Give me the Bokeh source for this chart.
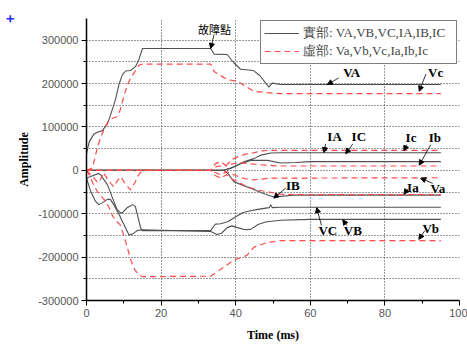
from bokeh.plotting import figure
from bokeh.models import Range1d, FixedTicker, Legend, LegendItem, Label, Arrow, NormalHead, Title
from bokeh.embed import file_html
from bokeh.resources import INLINE

# ---------------- data ----------------
# real parts (solid)
t_VA = [0, 0.7, 2, 2.9, 4.2, 5.6, 6.4, 7.8, 8.7, 9.6, 10.5, 11.8, 13.1, 14, 15, 33.3, 34.2, 37.7, 39.5, 41.3, 44.8, 46.5, 48.9, 49.8, 52, 95]
VA = [38000, 65000, 84000, 88000, 91000, 107000, 126000, 164000, 198000, 220000, 229000, 230000, 239000, 254000, 281000, 281000, 268000, 267000, 248000, 233000, 230000, 218000, 192000, 201000, 198000, 198000]

t_VB = [0, 1.1, 2.4, 3.3, 4.2, 5.6, 6.4, 7.3, 8.7, 10, 11.4, 12.3, 13.6, 14.9, 33.3, 35, 36.2, 37.7, 39, 40.5, 42.5, 44, 46, 48, 52, 60, 95]
VB = [-18000, -48000, -71000, -79000, -75000, -67000, -67000, -79000, -101000, -124000, -149000, -147000, -139000, -137000, -141000, -148000, -145000, -132000, -128000, -132000, -137000, -136000, -125000, -119000, -115000, -113000, -113000]

t_VC = [0, 1.1, 3.3, 3.8, 5.6, 7.3, 8.2, 9.1, 9.6, 10.9, 12.3, 13.1, 13.6, 14.5, 14.9, 33.3, 34, 34.6, 36, 38, 40, 42, 44, 46, 48, 49, 49.4, 49.8, 52, 95]
VC = [-18000, -14000, -7000, -11000, -33000, -71000, -90000, -98000, -98000, -86000, -79000, -83000, -101000, -132000, -139000, -139000, -130000, -124000, -123000, -118000, -107000, -97000, -93000, -90000, -87000, -86000, -79000, -86000, -85000, -85000]

t_IA = [0, 36.8, 38.6, 40.5, 42.2, 44.9, 46.7, 49.4, 52, 95]
IA = [0, 0, 4500, 12000, 20000, 27000, 35000, 40000, 40500, 40500]

t_IB = [0, 36.8, 38, 39.5, 42, 44, 46, 48, 50, 52, 56, 95]
IB = [0, 0, -8000, -26000, -35000, -41000, -48000, -55000, -61000, -60000, -57000, -57000]

t_IC = [0, 36.8, 38.5, 41.3, 44, 48.5, 52, 56, 60, 95]
IC = [0, 0, 5000, 15000, 23000, 23000, 17000, 18000, 20000, 20000]

# imaginary parts (dashed)
t_Vc = [0, 1.5, 2, 3, 4, 5, 6, 7, 8, 9, 10, 11, 12, 13, 14, 15, 33.3, 34.2, 37.7, 40.1, 41.3, 44.9, 48.5, 52, 95]
Vc = [0, 5000, 20000, 55000, 80000, 100000, 115000, 120000, 123000, 138000, 170000, 198000, 215000, 228000, 242000, 245000, 245000, 228000, 209000, 206000, 201000, 182000, 179000, 177000, 177000]

t_Vb = [0, 1, 2, 3, 4, 5, 6, 7, 8, 9, 10, 11, 12, 13, 14, 15, 33.3, 36.8, 39.5, 43, 44.9, 48.5, 52, 95]
Vb = [0, -15000, -35000, -50000, -60000, -70000, -85000, -105000, -118000, -125000, -150000, -180000, -210000, -230000, -240000, -245000, -244000, -223000, -207000, -196000, -177000, -166000, -162000, -162000]

t_Va = [0, 1, 2, 3, 3.6, 4.5, 5.5, 6.5, 7.3, 8.2, 9.2, 10.3, 11.8, 13, 14, 15, 33.3, 34.5, 36, 37.5, 40, 42, 44, 46, 49, 95]
Va = [0, -8000, -18000, -28000, -25000, -5000, -18000, -30000, -38000, -25000, -15000, -30000, -45000, -28000, -10000, 0, 0, -5000, -10000, -3000, -12000, -18000, -22000, -21000, -18000, -17000]

t_Ia = [0, 33.3, 34.5, 36, 37.5, 39, 41, 43, 45, 47, 49, 52, 56, 95]
Ia = [0, 0, -12000, -18000, -10000, -20000, -28000, -38000, -43000, -47000, -50000, -55000, -56000, -56000]

t_Ib = [0, 33.3, 34.5, 36, 37.5, 39, 41, 43, 45, 48, 52, 95]
Ib = [0, 0, 15000, 20000, 10000, 15000, 18000, 16000, 14000, 12000, 10000, 10000]

t_Ic = [0, 33.3, 34.5, 36, 37.5, 39, 41, 43, 45, 47, 49, 95]
Ic = [0, 0, 8000, 10000, 12000, 25000, 33000, 38000, 41000, 45000, 46000, 46000]

x_ticks = [0, 20, 40, 60, 80, 100]
x_minor = [10, 30, 50, 70, 90]
y_ticks = [-300000, -200000, -100000, 0, 100000, 200000, 300000]
y_minor = [-250000, -150000, -50000, 50000, 150000, 250000]
y_grid = [-250000, -200000, -150000, -100000, -50000, 0, 50000, 100000, 150000, 200000, 250000, 300000, 350000]
x_grid = [20, 40, 60, 80, 100]

legend_labels = ["實部: VA,VB,VC,IA,IB,IC", "虛部: Va,Vb,Vc,Ia,Ib,Ic"]

# annotations: text, text x, text y, arrow x0, y0, x1, y1
ann_text = ["VA", "Vc", "IA", "IC", "Ic", "Ib", "IB", "Ia", "Va", "VC", "VB", "Vb"]
ann_x = [71.1, 93.6, 66.5, 73.0, 87.0, 93.4, 55.3, 87.5, 94.2, 64.7, 71.4, 92.3]
ann_y = [226000, 226000, 77000, 77000, 75000, 75000, -34000, -39000, -41000, -139000, -139000, -134000]
arr_x0 = [67.6, 91.0, 64.1, 71.4, 85.9, 92.3, 53.4, 86.1, 92.8, 63.0, 69.8, 90.7]
arr_y0 = [213000, 222000, 61000, 61000, 59000, 59000, -41000, -43000, -30000, -127000, -127000, -139000]
arr_x1 = [64.6, 89.2, 63.7, 69.5, 85.1, 89.2, 50.2, 85.1, 89.6, 61.7, 68.7, 89.1]
arr_y1 = [197700, 182500, 41000, 38600, 45000, 12000, -64000, -55000, -18000, -86000, -114000, -159000]

fault_text = "故障點"
fault_pos = (34.3, 326000)
fault_arrow = (34.2, 313600, 33.3, 281000)

# ---------------- figure ----------------
p = figure(width=467, height=344, output_backend="svg", toolbar_location=None,
           x_range=Range1d(0, 100), y_range=Range1d(-300000, 350000),
           min_border_left=86, min_border_right=8, min_border_top=18, min_border_bottom=40)
p.outline_line_color = None
p.background_fill_color = "white"

REAL = "#505050"
IMAG = "#ff4a4a"

real_series = [(t_VA, VA), (t_VB, VB), (t_VC, VC), (t_IA, IA), (t_IB, IB), (t_IC, IC)]
imag_series = [(t_Vc, Vc), (t_Vb, Vb), (t_Va, Va), (t_Ia, Ia), (t_Ib, Ib), (t_Ic, Ic)]

real_r = []
for tx, vy in real_series:
    real_r.append(p.line(tx, vy, line_color=REAL, line_width=1.1))
imag_r = []
for tx, vy in imag_series:
    imag_r.append(p.line(tx, vy, line_color=IMAG, line_width=1.2, line_dash="6 4"))

# axes
for ax in (p.xaxis[0], p.yaxis[0]):
    ax.axis_line_color = "black"
    ax.axis_line_width = 1.5
    ax.major_tick_line_color = "black"
    ax.minor_tick_line_color = "black"
    ax.major_tick_in = 0
    ax.major_tick_out = 5
    ax.minor_tick_in = 0
    ax.minor_tick_out = 3
    ax.major_label_text_font = "Liberation Sans"
    ax.major_label_text_font_size = "11px"
    ax.major_label_text_color = "#555555"
    ax.axis_label_text_font = "Liberation Serif"
    ax.axis_label_text_font_style = "bold"
    ax.axis_label_text_font_size = "12px"
    ax.axis_label_text_color = "black"

p.xaxis.ticker = FixedTicker(ticks=x_ticks, minor_ticks=x_minor)
p.yaxis.ticker = FixedTicker(ticks=y_ticks, minor_ticks=y_minor)
p.yaxis.major_label_overrides = {v: str(v) for v in y_ticks}
p.xaxis.axis_label = "Time (ms)"
p.yaxis.axis_label = "Amplitude"
p.xaxis.axis_label_standoff = 8
p.yaxis.axis_label_standoff = 4
p.xaxis.major_label_standoff = 3
p.yaxis.major_label_standoff = 3

p.xgrid.ticker = FixedTicker(ticks=x_grid)
p.ygrid.ticker = FixedTicker(ticks=y_grid)
for g in (p.xgrid[0], p.ygrid[0]):
    g.grid_line_color = "#333333"
    g.grid_line_dash = "1 2"
    g.grid_line_width = 1

# legend
legend = Legend(items=[LegendItem(label=legend_labels[0], renderers=[real_r[0]]),
                       LegendItem(label=legend_labels[1], renderers=[imag_r[0]])],
                location="top_right")
legend.border_line_color = "black"
legend.border_line_width = 1
legend.background_fill_color = "white"
legend.background_fill_alpha = 1
legend.label_text_font = "Liberation Serif"
legend.label_text_font_size = "13px"
legend.label_text_line_height = 1.0
legend.label_standoff = 4
legend.label_width = 150
legend.glyph_width = 35
legend.glyph_height = 14
legend.label_height = 14
legend.spacing = 0
legend.padding = 3
legend.margin = 2
p.add_layout(legend, "center")

# annotations
for i in range(len(ann_text)):
    p.add_layout(Label(x=ann_x[i], y=ann_y[i], text=ann_text[i], text_align="center",
                       text_baseline="middle", text_font="Liberation Serif",
                       text_font_style="bold", text_font_size="13px", text_color="black"))
    p.add_layout(Arrow(x_start=arr_x0[i], y_start=arr_y0[i], x_end=arr_x1[i], y_end=arr_y1[i],
                       line_color="black", line_width=0.8,
                       end=NormalHead(size=5, fill_color="black", line_color="black")))

p.add_layout(Label(x=fault_pos[0], y=fault_pos[1], text=fault_text, text_align="center",
                   text_baseline="middle", text_font="Noto Sans CJK TC",
                   text_font_size="11px", text_color="black"))
p.add_layout(Arrow(x_start=fault_arrow[0], y_start=fault_arrow[1], x_end=fault_arrow[2], y_end=fault_arrow[3],
                   line_color="black", line_width=0.8,
                   end=NormalHead(size=5, fill_color="black", line_color="black")))

# small blue cross in the top-left corner of the picture
cross = Title(text="+", align="right", standoff=0, offset=-4, text_color="#2a2aff",
              text_font="Liberation Sans", text_font_style="bold", text_font_size="14px")
p.add_layout(cross, "left")

open("out.html", "w").write(file_html(p, INLINE))
